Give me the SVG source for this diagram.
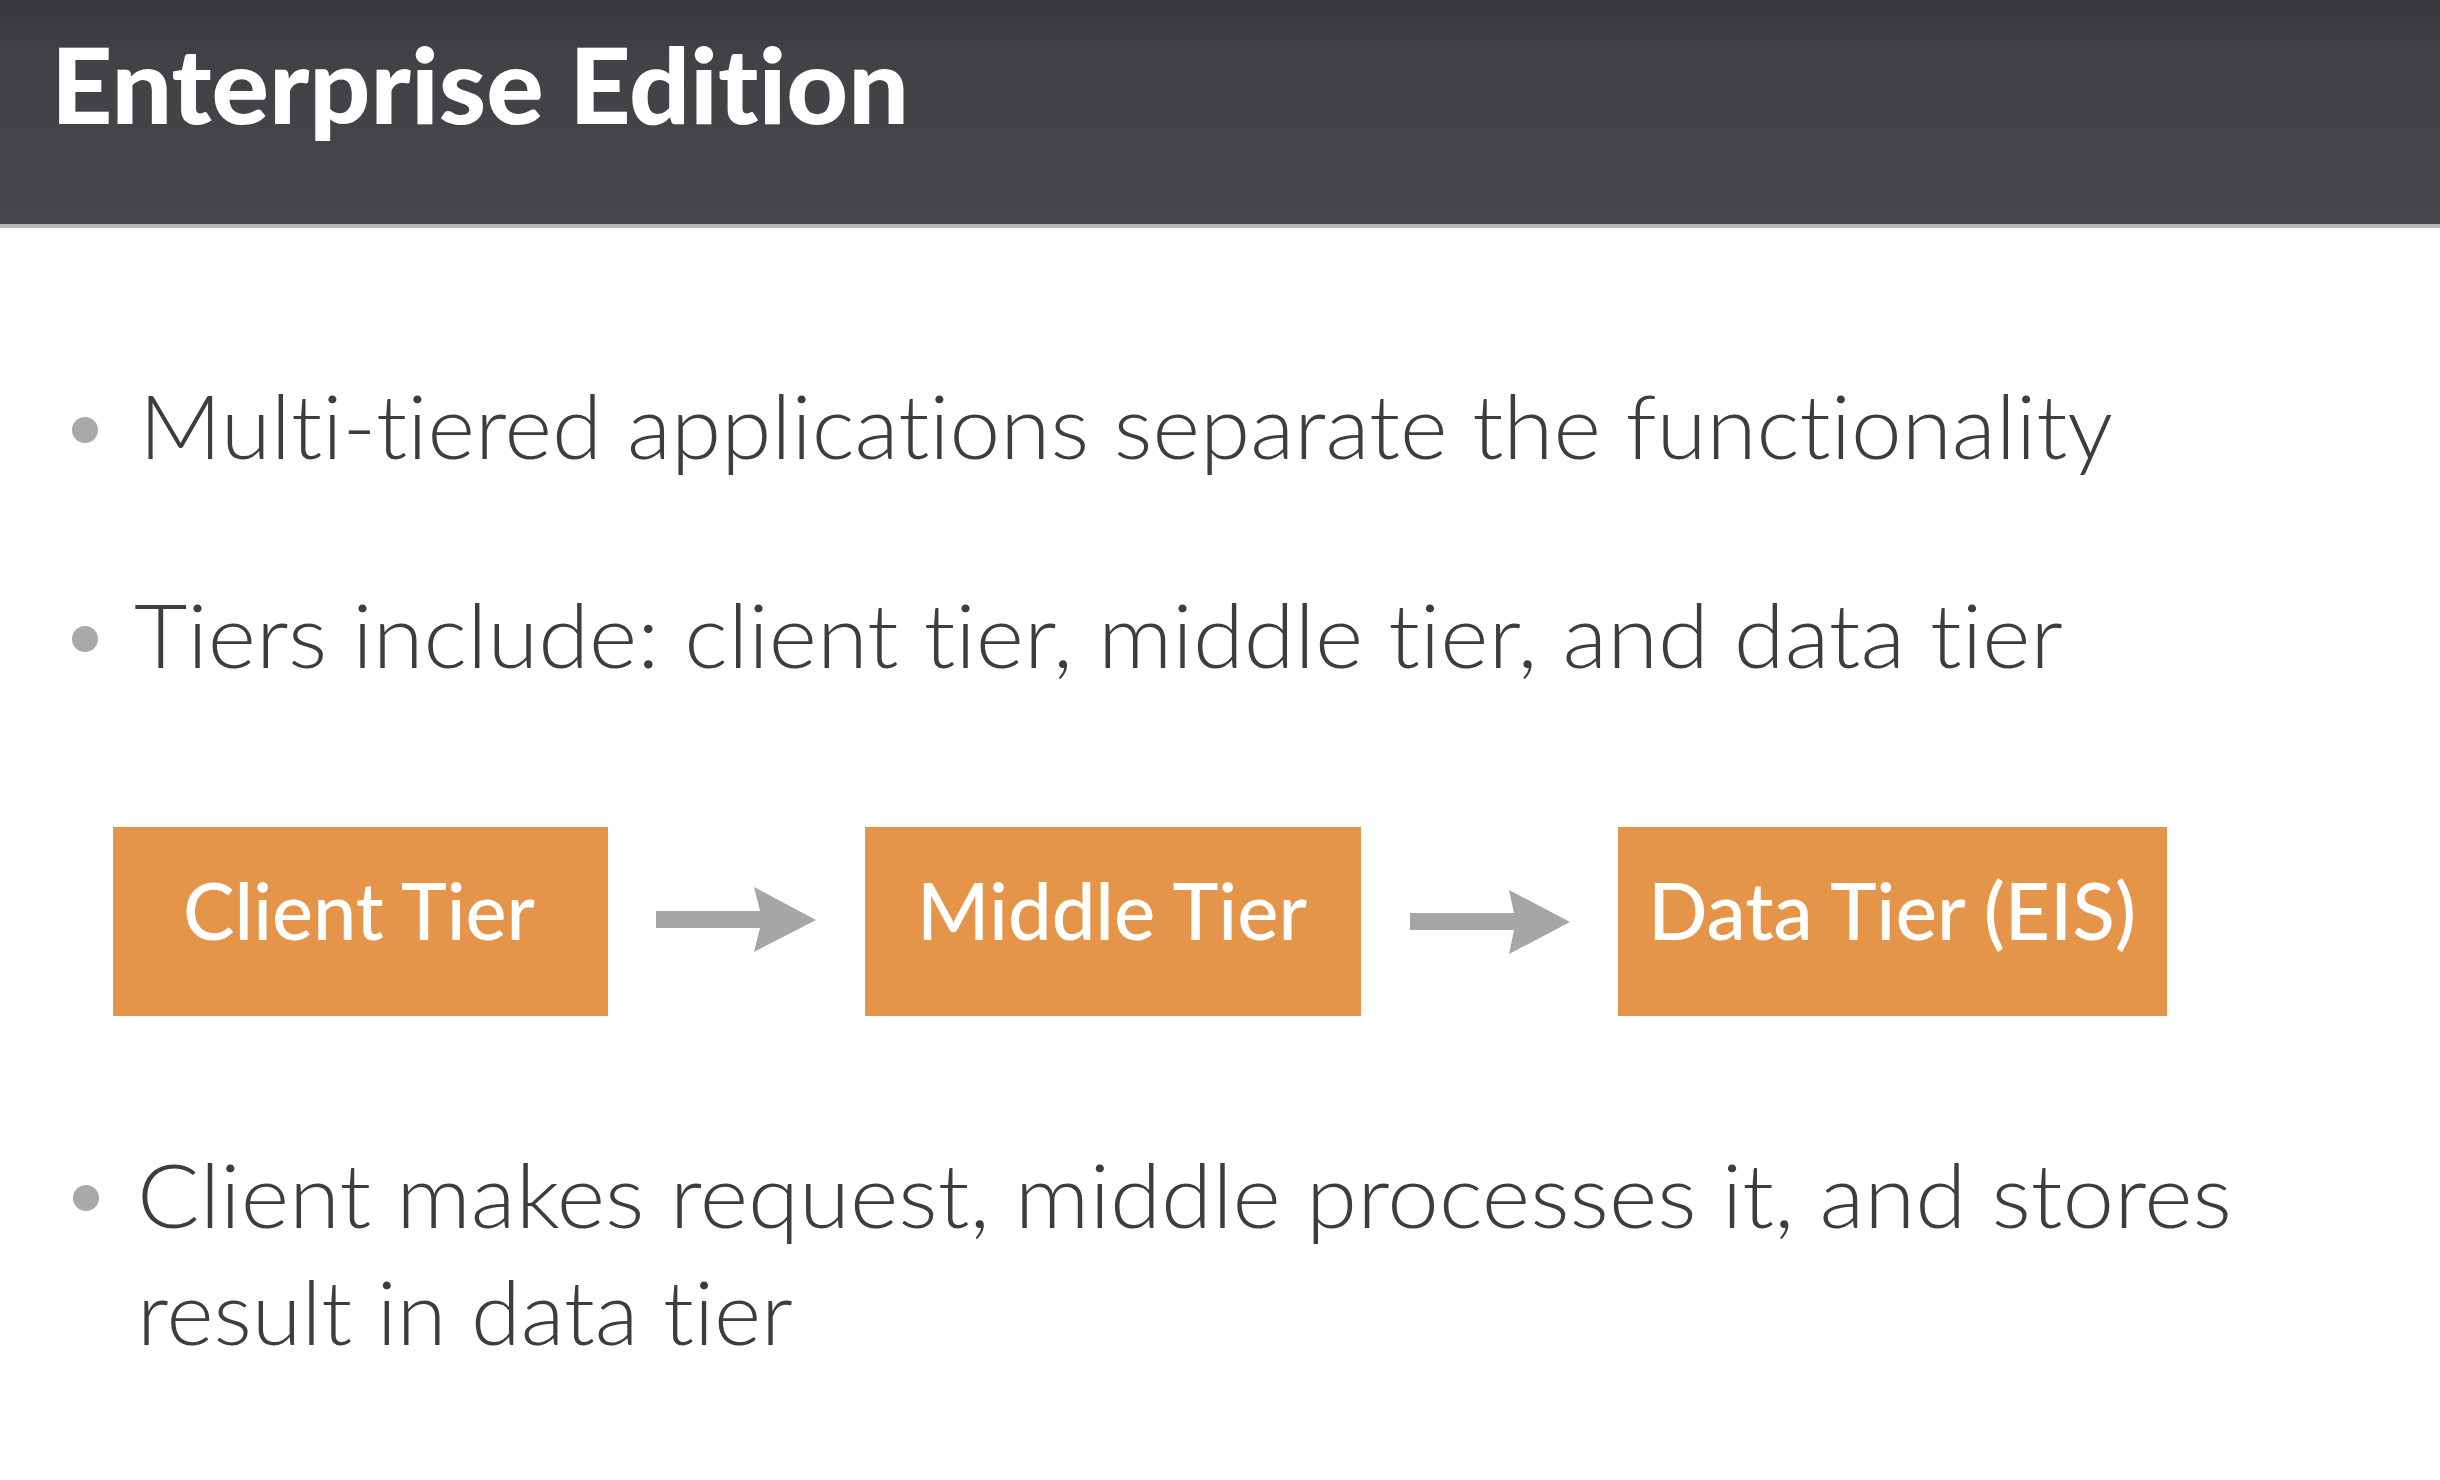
<svg xmlns="http://www.w3.org/2000/svg" width="2440" height="1480" viewBox="0 0 2440 1480">
<defs>
<linearGradient id="hdr" x1="0" y1="0" x2="0" y2="1">
<stop offset="0" stop-color="#37373b"/>
<stop offset="0.25" stop-color="#424246"/>
<stop offset="1" stop-color="#46464a"/>
</linearGradient>
<style>
text{font-variant-ligatures:none;font-feature-settings:"liga" 0,"clig" 0}
.title{font-family:"Lato","Liberation Sans",sans-serif;font-weight:900;font-size:104px;fill:#ffffff}
.body{font-family:"Lato","Open Sans","Liberation Sans",sans-serif;font-weight:300;font-size:89px;fill:#3d3d3f}
.dot{fill:#a9a9ab}
.box{fill:#e4954a}
.lbl{font-family:"Lato","Liberation Sans",sans-serif;font-weight:500;font-size:80px;fill:#ffffff;text-anchor:middle}
.arrow{fill:#a6a6a8}
</style>
</defs>
<rect x="0" y="0" width="2440" height="1480" fill="#ffffff"/>
<g id="header">
<rect x="0" y="0" width="2440" height="224" fill="url(#hdr)"/>
<rect x="0" y="224" width="2440" height="4" fill="#b8b8ba"/>
<text class="title" x="51" y="124" textLength="858" lengthAdjust="spacingAndGlyphs">Enterprise Edition</text>
</g>
<g id="bullets">
<circle class="dot" cx="85" cy="430" r="13"/>
<text class="body" x="139" y="459" textLength="1974" lengthAdjust="spacingAndGlyphs">Multi-tiered applications separate the functionality</text>
<circle class="dot" cx="85" cy="639" r="13"/>
<text class="body" x="134" y="668" textLength="1929" lengthAdjust="spacingAndGlyphs">Tiers include: client tier, middle tier, and data tier</text>
<circle class="dot" cx="86" cy="1198" r="13"/>
<text class="body" x="137" y="1228" textLength="2095" lengthAdjust="spacingAndGlyphs">Client makes request, middle processes it, and stores</text>
<text class="body" x="137" y="1345" textLength="656" lengthAdjust="spacingAndGlyphs">result in data tier</text>
</g>
<g id="client-tier">
<rect class="box" x="113" y="827" width="495" height="189"/>
<text class="lbl" x="359" y="940" textLength="352" lengthAdjust="spacingAndGlyphs">Client Tier</text>
</g>
<g id="middle-tier">
<rect class="box" x="865" y="827" width="496" height="189"/>
<text class="lbl" x="1112" y="940" textLength="390" lengthAdjust="spacingAndGlyphs">Middle Tier</text>
</g>
<g id="data-tier">
<rect class="box" x="1618" y="827" width="549" height="189"/>
<text class="lbl" x="1892" y="940" textLength="488" lengthAdjust="spacingAndGlyphs">Data Tier (EIS)</text>
</g>
<g id="connectors">
<path class="arrow" d="M656,911 H760 L754,887 L816,920 L754,952 L760,928 H656 Z"/>
<path class="arrow" d="M1410,913 H1514 L1509,890 L1570,922 L1509,954 L1514,930 H1410 Z"/>
</g>
</svg>
